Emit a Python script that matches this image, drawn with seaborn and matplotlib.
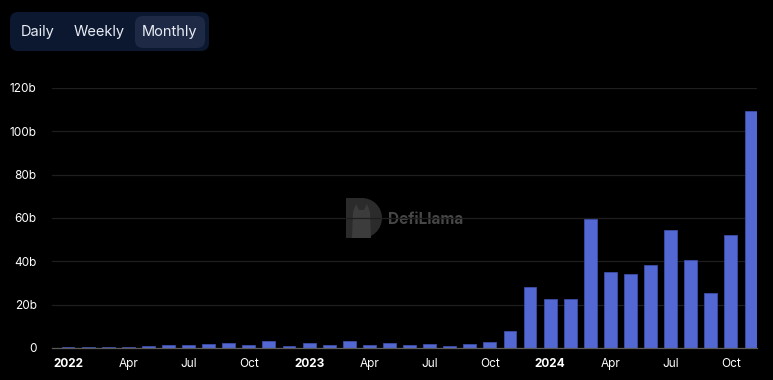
import numpy as np
import pandas as pd
import seaborn as sns
import matplotlib.pyplot as plt
from matplotlib.patches import FancyBboxPatch, Rectangle, Wedge, Polygon

# monthly volume, billions (Jan 2022 .. Nov 2024)
months = pd.date_range("2022-01-01", "2024-11-01", freq="MS")
volume_b = [0.5, 0.6, 0.5, 0.6, 0.9, 1.2, 1.4, 1.7, 2.2, 1.6, 3.4, 0.9,
            2.2, 1.2, 3.4, 1.2, 2.3, 1.2, 1.7, 0.9, 1.8, 2.8, 8.0, 28.0,
            22.4, 22.4, 59.7, 35.2, 34.1, 38.5, 54.6, 40.6, 25.2, 52.3, 109.2]
y_ticks = [0, 20, 40, 60, 80, 100, 120]
y_labels = ["0", "20b", "40b", "60b", "80b", "100b", "120b"]
buttons = ["Daily", "Weekly", "Monthly"]

df = pd.DataFrame({"month": months.strftime("%Y-%m"), "volume": volume_b})

sns.set_style("dark")
plt.rcParams["font.family"] = ["Inter", "DejaVu Sans"]

fig = plt.figure(figsize=(7.73, 3.80), dpi=100, facecolor="black")

# overlay in pixel coords for the decorations (drawn beneath the chart)
ov = fig.add_axes([0, 0, 1, 1], zorder=-1)
ov.set_xlim(0, 773)
ov.set_ylim(380, 0)
ov.axis("off")

ax = fig.add_axes([52 / 773, 1 - 348 / 380, 705 / 773, 260 / 380], zorder=1)
ax.patch.set_alpha(0)

sns.barplot(data=df, x="month", y="volume", color="#5468d4", saturation=1,
            width=0.64, edgecolor="#3d4ea8", linewidth=0.6, ax=ax, zorder=3)

ax.set_xlim(-0.8, len(df) - 0.7)
ax.set_ylim(0, 120)
ax.set_xlabel("")
ax.set_ylabel("")

# gridlines
for v in y_ticks[1:]:
    ax.axhline(v, color="#1e1e1e", lw=0.9, zorder=1)
ax.grid(False)
for s in ["top", "right", "left"]:
    ax.spines[s].set_visible(False)
ax.spines["bottom"].set_color("#5a5a5a")
ax.spines["bottom"].set_linewidth(0.9)
ax.spines["bottom"].set_zorder(4)

ax.set_yticks(y_ticks)
ax.set_yticklabels(y_labels, color="white", fontsize=8.5)
ax.tick_params(axis="y", length=0, pad=11)

tick_pos = list(range(0, len(df), 3))
tick_lab = []
for i in tick_pos:
    m = months[i]
    tick_lab.append(str(m.year) if m.month == 1 else m.strftime("%b"))
ax.set_xticks(tick_pos)
ax.set_xticklabels(tick_lab, color="white", fontsize=8.5)
for t, m in zip(ax.get_xticklabels(), tick_pos):
    if months[m].month == 1:
        t.set_fontweight("bold")
ax.tick_params(axis="x", length=4, width=1, color="white", pad=3)

# watermark (D logo + name)
ov.add_patch(Rectangle((346, 198), 16, 40, fc="#2b2b2b", ec="none"))
ov.add_patch(Wedge((362, 218), 20, -90, 90, fc="#2b2b2b", ec="none"))
ov.add_patch(Polygon([[352, 238], [353, 212], [356, 204], [359, 210], [364, 210],
                      [367, 204], [370, 212], [371, 238]], fc="#3c3c3c", ec="none"))
ov.text(388, 219, "DefiLlama", color="#474747", fontsize=11,
        fontweight="bold", va="center", ha="left")

# period toggle
ov.add_patch(FancyBboxPatch((10, 12), 199, 39, boxstyle="round,pad=0,rounding_size=8",
                            fc="#0b1830", ec="none"))
ov.add_patch(FancyBboxPatch((135, 16), 70, 32, boxstyle="round,pad=0,rounding_size=8",
                            fc="#1e2a45", ec="none"))
for name, cx in zip(buttons, [38, 99, 170]):
    ov.text(cx, 32, name, color="#e8ecf4", fontsize=10.5, ha="center", va="center")

fig.savefig("out.png", dpi=100, facecolor="black")
